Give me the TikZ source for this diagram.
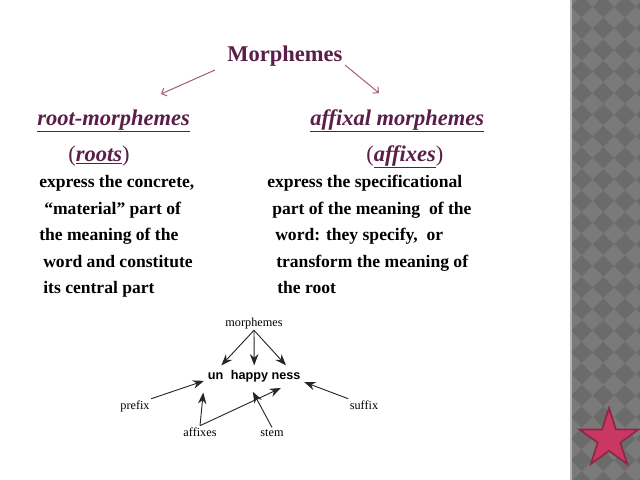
\documentclass[tikz,border=0pt]{standalone}
\usepackage{fontspec}
\setmainfont{Liberation Serif}
\newfontfamily\wordfont{Liberation Sans}
\usetikzlibrary{positioning,arrows.meta,shapes.geometric}

\definecolor{plum}{HTML}{5A1E48}
\definecolor{rosearrow}{HTML}{A65C7C}
\definecolor{stripedark}{HTML}{6B6B6B}
\definecolor{stripelight}{HTML}{7A7A7A}
\definecolor{stripeedge}{HTML}{B4B4B4}
\definecolor{starpink}{HTML}{C93862}
\definecolor{starrim}{HTML}{8E2747}

\tikzset{
  heading/.style={font=\fontsize{16}{19}\selectfont, text=plum, inner sep=0pt, anchor=base west},
  bodyline/.style={font=\fontsize{12.5}{15}\selectfont\bfseries, inner sep=0pt, anchor=base west},
  smalllabel/.style={font=\fontsize{8.7}{10}\selectfont, inner sep=1pt, anchor=base},
  wordpart/.style={font=\wordfont\fontsize{9}{11}\selectfont\bfseries, text height=7pt, text depth=2pt, inner sep=2.5pt, anchor=base},
  treearrow/.style={-{Stealth[length=8pt,width=6pt]}, line width=0.65pt, black!85},
  toparrow/.style={-{Straight Barb[length=3pt,width=6pt]}, line width=0.7pt, rosearrow}
}

\begin{document}
\begin{tikzpicture}[x=0.025cm, y=-0.025cm]

  \useasboundingbox (0,0) rectangle (640,480);
  \fill[white] (0,0) rectangle (640,480);

  % Side stripe
  \begin{scope}
    \clip (571,0) rectangle (640,480);
    \fill[stripedark] (571,0) rectangle (640,480);
    \foreach \i in {-1,...,3}{
      \foreach \j in {-1,...,22}{
        \fill[stripelight] ({592.5+21.6*\i},{17.5+21.6*\j}) +(-10.8,0) -- +(0,-10.8) -- +(10.8,0) -- +(0,10.8) -- cycle;
      }
    }
  \end{scope}
  \draw[stripeedge, line width=1pt] (571,0) -- (571,480);

  \node[star, star points=5, star point ratio=2.618, minimum size=1.55cm, inner sep=0pt, fill=starpink, draw=starrim, line width=1.2pt] (star) at (609,439) {};

  % Title and headings
  \node[heading, font=\fontsize{16}{19}\selectfont\bfseries] (title) at (227,62) {Morphemes};

  \coordinate (root-from) at (215,70);
  \coordinate (root-to) at (161,94);
  \coordinate (affix-from) at (345,65);
  \coordinate (affix-to) at (379,93);
  \draw[toparrow] (root-from) -- (root-to);
  \draw[toparrow] (affix-from) -- (affix-to);

  \node[heading, font=\fontsize{16}{19}\selectfont\bfseries\itshape] (root-head) at (37,125) {\underline{root-morphemes}};
  \node[heading, font=\fontsize{16}{19}\selectfont\bfseries\itshape] (affix-head) at (310,125) {\underline{affixal morphemes}};

  \node[heading] (roots) at (68,161) {(\textbf{\textit{\underline{roots}}})};
  \node[heading] (affixes-head) at (366,161) {(\textbf{\textit{\underline{affixes}}})};

  % Left column
  \node[bodyline] (left-a) at (39,187) {express the concrete,};
  \node[bodyline] (left-b) at (44,214) {“material” part of};
  \node[bodyline] (left-c) at (39,240) {the meaning of the};
  \node[bodyline] (left-d) at (43,267) {word and constitute};
  \node[bodyline] (left-e) at (43,293) {its central part};

  % Right column
  \node[bodyline] (right-a) at (267,187) {express the specificational};
  \node[bodyline] (right-b) at (272,214) {part of the meaning\ \ of the};
  \node[bodyline] (right-c) at (275,240) {word: they specify,\ \ or};
  \node[bodyline] (right-d) at (276,267) {transform the meaning of};
  \node[bodyline] (right-e) at (277,293) {the root};

  % Word tree
  \node[smalllabel] (morph) at (254,326) {morphemes};
  \node[wordpart] (un) at (215.5,379) {un};
  \node[wordpart] (happy) at (249.5,379) {happy};
  \node[wordpart] (ness) at (286,379) {ness};

  \node[smalllabel] (prefix) at (135,409) {prefix};
  \node[smalllabel] (suffix) at (364,409) {suffix};
  \node[smalllabel] (affixes) at (200,436) {affixes};
  \node[smalllabel] (stem) at (272,436) {stem};

  \draw[treearrow] (morph.south) -- (un.60);
  \draw[treearrow] (morph.south) -- (happy.65);
  \draw[treearrow] (morph.south) -- (ness.north);

  \draw[treearrow] (prefix.north east) -- (un.205);
  \draw[treearrow] (suffix.north west) -- (ness.340);
  \draw[treearrow, shorten >=5pt] (affixes.north) -- (un.south west);
  \draw[treearrow, shorten >=4pt] (affixes.north) -- (ness.south);
  \draw[treearrow, shorten >=5pt] (stem.north) -- (happy.south);

\end{tikzpicture}
\end{document}
